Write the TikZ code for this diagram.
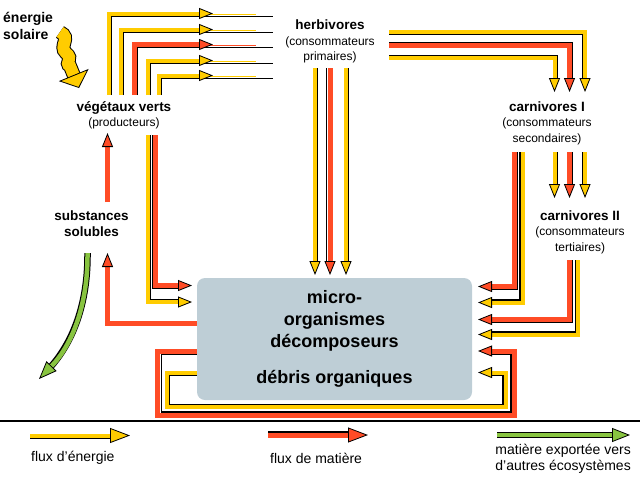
\documentclass[tikz,border=0pt]{standalone}
\usepackage{fontspec}
\setmainfont{Liberation Sans}
\usetikzlibrary{arrows.meta}
\definecolor{jaune}{RGB}{255,204,0}
\definecolor{rouge}{RGB}{255,76,38}
\definecolor{vert}{RGB}{136,196,64}
\definecolor{grisbleu}{RGB}{190,206,214}
\newcommand{\titre}{\bfseries\fontsize{13.5}{15.5}\selectfont}
\tikzset{pointe/.style={-{Triangle[length=14pt,width=11pt,color=black,fill=#1,line width=0.8pt]}},
%pointes plus grandes pour la legende
grandepointe/.style={-{Triangle[length=20pt,width=15pt,color=black,fill=#1,line width=0.8pt]}},
energie/.style={draw=jaune, line width=4pt, pointe=jaune},
matiere/.style={draw=rouge, line width=5pt, pointe=rouge},
bord/.style={draw=black, line width=1.2pt},
effile/.style={line width=1.5pt, -},
export/.style={draw=vert, line width=4.5pt, preaction={draw=black, line width=6.5pt, -, shorten >=12pt},
  -{Triangle[length=18pt,width=14pt,color=black,fill=vert,line width=0.8pt]}},
solaire/.style={draw=jaune, line width=12pt, preaction={draw=black, line width=14pt, -, shorten >=12pt},
  -{Triangle[length=14pt,width=32pt,color=black,fill=jaune,line width=0.8pt]}},
niveau/.style={align=center, inner sep=0pt, font=\fontsize{12}{15.5}\selectfont},
legende/.style={inner sep=0pt, font=\fontsize{14}{16}\selectfont}}

\begin{document}
\begin{tikzpicture}[x=1pt,y=-1pt]
    \useasboundingbox (0,0) rectangle (640,480);

    \node[inner sep=0pt, anchor=west, align=left, font=\bfseries\fontsize{14}{17}\selectfont] (soleil) at (3,26) {énergie\\solaire};
    \node[niveau] (veg) at (124,115.5) {{\titre végétaux verts}\\(producteurs)};
    \node[niveau] (herb) at (330,41.5) {{\titre herbivores}\\(consommateurs\\primaires)};
    \node[niveau] (carn1) at (547,123) {{\titre carnivores I}\\(consommateurs\\secondaires)};
    \node[niveau] (carn2) at (580,232) {{\titre carnivores II}\\(consommateurs\\tertiaires)};
    \node[niveau] (subst) at (91.5,223.5) {{\titre substances}\\{\titre solubles}};

    \draw[solaire] (60,32) .. controls (72,38) and (58,46) .. (66,53) .. controls (74,59) and (64,63) .. (70,66) -- (79,88);

    % vegetaux -> herbivores
    \foreach \x/\y/\c/\d in {109/13.5/energie/2.6, 121/29.5/energie/2.6, 134.5/44.5/matiere/3.1, 147.5/60.5/energie/2.6, 158.5/75.5/energie/2.6}
    {
    \draw[bord] (\x+\d,95) |- (273,\y+\d);
    \draw[\c, effile] (205,\y+1) -- (256,\y+1);
    \draw[\c] (\x,95) |- (213,\y);
    }

    % herbivores -> decomposeurs
    \foreach \x/\c/\d in {315/energie/2.6, 330/matiere/-3.6, 346/energie/2.6}
    {
    \draw[bord] (\x+\d,68) -- (\x+\d,262);
    \draw[\c] (\x,68) -- (\x,275);
    }

    % herbivores -> carnivores I
    \foreach \x/\y/\c/\d in {585/31.5/energie/2.6, 569.5/45.5/matiere/-3.1, 554.5/58/energie/-2.6}
    {
    \draw[bord] (389,\y+\d) -| (\x-\d,80);
    \draw[\c] (389,\y) -| (\x,92);
    }

    % carnivores I -> carnivores II
    \foreach \x/\c/\d in {554.5/energie/2.6, 569.5/matiere/3.1, 585/energie/-2.6}
    {
    \draw[bord] (\x+\d,152) -- (\x+\d,186);
    \draw[\c] (\x,152) -- (\x,198);
    }

    % carnivores -> decomposeurs
    \foreach \x/\h/\y/\c/\d in {514.5/152/286.5/matiere/3.1, 522.5/152/302.5/energie/-2.6, 569.5/260/319.5/matiere/3.1, 578/260/334.5/energie/-2.6}
    {
    \draw[bord] (\x+\d,\h) |- (490,\y+\d);
    \draw[\c] (\x,\h) |- (478,\y);
    }

    % vegetaux -> decomposeurs
    \draw[bord] (150.1,135) |- (180,299.4);
    \draw[energie] (147.5,135) |- (192,302);
    \draw[bord] (152.4,135) |- (180,288.6);
    \draw[matiere] (155.5,135) |- (192,285.5);

    % decomposeurs -> substances solubles -> vegetaux
    \draw[matiere] (205,323.5) -| (107.5,253);
    \draw[matiere] (107.5,202) -- (107.5,133);

    % recyclage sous les decomposeurs
    \draw[bord] (205,354.6) -| (161.1,411.9) -| (510.9,354.6) -- (490,354.6);
    \draw[matiere] (205,351) -| (157.5,415.5) -| (514.5,351) -- (478,351);
    \draw[bord] (205,375.1) -| (169.1,404.4) -| (502.9,375.1) -- (490,375.1);
    \draw[energie] (205,372.5) -| (166.5,407) -| (505.5,372.5) -- (478,372.5);

    \draw[export] (87.5,253) .. controls (88,305) and (72,345) .. (39,379);

    \node[fill=grisbleu, rounded corners=8pt, minimum width=275pt, minimum height=122pt, inner sep=0pt,
      align=center, font=\bfseries\fontsize{18}{22}\selectfont] (boite) at (334.5,339)
      {micro-\\organismes\\décomposeurs\\[14pt]débris organiques};

    \draw[line width=2pt] (0,421) -- (640,421);

    % legende
    \draw[bord] (30,438.6) -- (118,438.6);
    \draw[energie, grandepointe=jaune] (30,435.5) -- (130,435.5);
    \draw[bord] (268,431.9) -- (355,431.9);
    \draw[matiere, grandepointe=rouge] (268,435) -- (368,435);
    \draw[export] (497,435) -- (630,435);
    \node[legende, anchor=west] (lj) at (31,458) {flux d'énergie};
    \node[legende, anchor=west] (lr) at (270,458) {flux de matière};
    \node[legende, anchor=east, align=right] (lv) at (631,459) {matière exportée vers\\d'autres écosystèmes};

  \end{tikzpicture}
\end{document}
